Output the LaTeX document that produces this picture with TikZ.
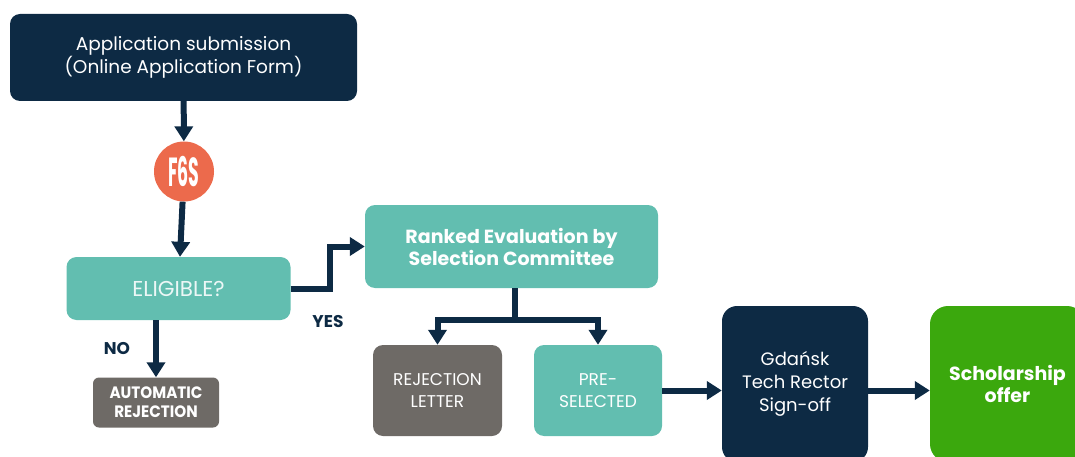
\documentclass[tikz,border=0pt]{standalone}
\usepackage{fontspec}
\setmainfont{Poppins}
\usetikzlibrary{arrows.meta}

\definecolor{navy}{HTML}{0D2A44}
\definecolor{teal}{HTML}{62BEB0}
\definecolor{stone}{HTML}{6E6A66}
\definecolor{fgsorange}{HTML}{EC6A4C}
\definecolor{offergreen}{HTML}{3BA80D}

\tikzset{
  box/.style={rounded corners=10pt, inner sep=0pt, align=center, text=white},
  arr/.style={-{Triangle[width=18pt,length=15pt]}, line width=6pt, draw=navy},
  lbl/.style={font=\fontsize{17}{19}\selectfont\bfseries, text=navy}
}

\begin{document}
\begin{tikzpicture}[x=1pt,y=-1pt]
		\useasboundingbox (0,0) rectangle (1075,457);
		% top of the flow
		\node[box, fill=navy, minimum width=347pt, minimum height=87pt, font=\fontsize{18.5}{23}\selectfont] (apply) at (183.5,57.5) {Application submission\\(Online Application Form)};
		\node[circle, fill=fgsorange, minimum size=60pt, inner sep=0pt, text=white, font=\fontsize{28}{28}\selectfont\bfseries] (fgs) at (184,171.5) {\scalebox{0.62}[1.45]{F6S}};
		\node[box, fill=teal, minimum width=224pt, minimum height=63pt, font=\fontsize{21.5}{24}\selectfont, text=white!88!teal] (elig) at (178.5,288.5) {ELIGIBLE?};
		\node[box, fill=stone, rounded corners=6pt, minimum width=126pt, minimum height=50pt, font=\fontsize{16.5}{19}\selectfont\bfseries] (autorej) at (156,402.5) {\scalebox{0.92}[1]{AUTOMATIC}\\\scalebox{0.92}[1]{REJECTION}};
		\node[lbl] (no) at (117,349) {NO};
		\node[lbl] (yes) at (328,322) {YES};
		% evaluation
		\node[box, fill=teal, minimum width=293pt, minimum height=83pt, font=\fontsize{19}{22}\selectfont\bfseries] (rank) at (511.5,246.5) {Ranked Evaluation by\\Selection Committee};
		\coordinate (split) at (515,320);
		\node[box, fill=stone, minimum width=129pt, minimum height=91pt, font=\fontsize{17}{22}\selectfont] (rejlet) at (437.5,390.5) {REJECTION\\LETTER};
		\node[box, fill=teal, minimum width=128pt, minimum height=91pt, font=\fontsize{17}{22}\selectfont] (presel) at (598,390.5) {PRE-\\SELECTED};
		% final steps
		\node[box, fill=navy, rounded corners=15pt, minimum width=146pt, minimum height=156pt, font=\fontsize{18}{23}\selectfont] (rector) at (795,384) {Gdańsk\\Tech Rector\\Sign-off};
		\node[box, fill=offergreen, rounded corners=18pt, minimum width=155pt, minimum height=156pt, font=\fontsize{19}{22}\selectfont\bfseries] (offer) at (1007.5,384) {Scholarship\\offer};
		% connectors
		\draw[arr] (apply) -- (fgs);
		\draw[arr] (fgs) -- (elig);
		\draw[arr] (elig.south -| autorej) -- (autorej);
		\draw[arr] (elig.east) -- ++(39,0) |- (rank.west);
		\draw[line width=6pt, draw=navy] (rank.south -| split) -- (split);
		\draw[arr] (split) -| (rejlet.north);
		\draw[arr] (split) -| (presel.north);
		\draw[arr] (presel.east) -- (presel.east -| rector.west);
		\draw[arr] (rector.east |- presel.east) -- (presel.east -| offer.west);
		\end{tikzpicture}
\end{document}
